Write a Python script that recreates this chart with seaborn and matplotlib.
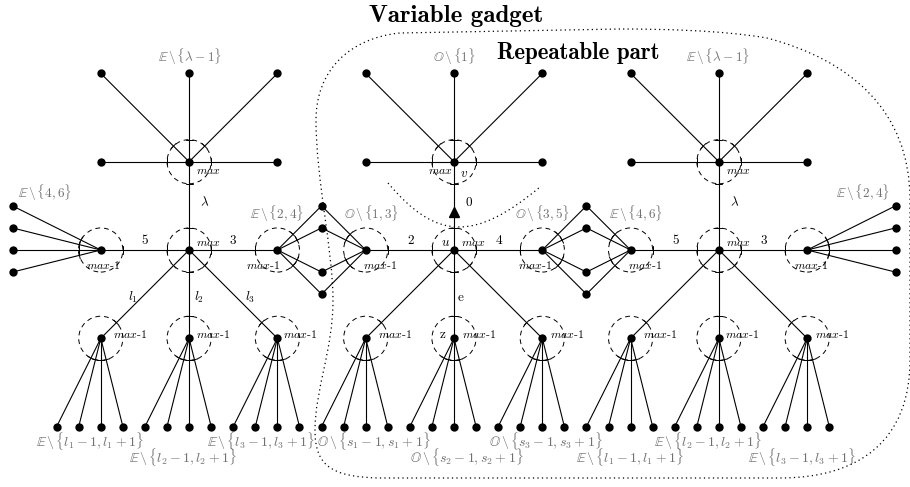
import numpy as np
import pandas as pd
import matplotlib
matplotlib.use('Agg')
import matplotlib.pyplot as plt
import seaborn as sns
from matplotlib.path import Path
from matplotlib.patches import PathPatch, Circle

sns.set_theme(style='white')
plt.rcParams['font.family'] = ['cmr10', 'DejaVu Serif']
plt.rcParams['mathtext.fontset'] = 'cm'
plt.rcParams['axes.unicode_minus'] = False

# gadget structure, in grid units (1 unit = spacing between neighbour vertices)
hub_cols = [2, 5, 8]
maxm1_cols = [1, 3, 4, 6, 7, 9]
side_offsets = [-1, 0, 1]
leaf_offsets = [-0.5, -0.25, 0, 0.25]
fan_rows = [0.5, 0.25, 0, -0.25]
diamond_cols = [3.5, 6.5]
diamond_rows = [0.5, 0.25, -0.25, -0.5]
end_fans = [(1, 0), (9, 10)]
radius = 0.25
arrow_hub = 5

# pixel -> grid units
S, X0, Y0 = 88.3, 12.5, 250.0
def px(x, y):
    return (x - X0) / S, (Y0 - y) / S

# edges
edges = []
for h in hub_cols:
    edges.append(((h, 0), (h, 1)))
    for d in side_offsets:
        edges.append(((h, 1), (h + d, 2)))
    for d in [-1, 1]:
        edges.append(((h, 1), (h + d, 1)))
        edges.append(((h, 0), (h + d, 0)))
    for d in side_offsets:
        edges.append(((h, 0), (h + d, -1)))
        for o in leaf_offsets:
            edges.append(((h + d, -1), (h + d + o, -2)))
for dc in diamond_cols:
    for r in diamond_rows:
        edges.append(((dc - 0.5, 0), (dc, r)))
        edges.append(((dc, r), (dc + 0.5, 0)))
for c, lc in end_fans:
    for r in fan_rows:
        edges.append(((c, 0), (lc, r)))

circled = set()
for h in hub_cols:
    circled.add((h, 0))
    circled.add((h, 1))
    for d in side_offsets:
        circled.add((h + d, -1))
for c in maxm1_cols:
    circled.add((c, 0))

rows = []
for i, (a, b) in enumerate(edges):
    rows.append({'edge': i, 'x': a[0], 'y': a[1]})
    rows.append({'edge': i, 'x': b[0], 'y': b[1]})
edges_df = pd.DataFrame(rows)
nodes_df = edges_df[['x', 'y']].drop_duplicates()

fig = plt.figure(figsize=(9.1, 4.87), dpi=100)
ax = fig.add_axes([0, 0, 1, 1])

sns.lineplot(data=edges_df, x='x', y='y', units='edge', estimator=None, sort=False,
             color='black', lw=0.8, ax=ax, legend=False)
sns.scatterplot(data=nodes_df, x='x', y='y', color='black', s=36, edgecolor='black',
                linewidth=0, ax=ax, zorder=5, legend=False)

# dashed circles + small ticks where edges cross them
for (cx, cy) in circled:
    ax.add_patch(Circle((cx, cy), radius, fill=False, ec='black', lw=0.7,
                        ls=(0, (5, 4)), zorder=3))
for a, b in edges:
    for p, q in [(a, b), (b, a)]:
        if p in circled:
            d = np.array(q, float) - np.array(p, float)
            d /= np.linalg.norm(d)
            m = np.array(p) + radius * d
            n = np.array([-d[1], d[0]]) * 0.04
            ax.plot([m[0] - n[0], m[0] + n[0]], [m[1] - n[1], m[1] + n[1]],
                    color='black', lw=0.7)

# arrow head on the u -> v edge
ax.plot([arrow_hub], [px(0, 212)[1]], marker='^', ms=7, color='black', zorder=6)

# dotted outline of the repeatable part
outline = [(620, 29), (400, 33), (350, 38), (316, 70), (316, 120),
           (316, 180), (333, 250), (333, 300), (333, 350), (315, 390), (315, 430),
           (315, 465), (330, 477), (380, 478), (780, 478), (860, 478), (910, 440),
           (910, 360), (910, 200), (910, 110), (850, 60), (767, 38),
           (720, 30), (660, 29), (620, 29)]
codes = [Path.MOVETO, Path.LINETO, Path.CURVE4, Path.CURVE4, Path.CURVE4,
         Path.CURVE4, Path.CURVE4, Path.CURVE4, Path.CURVE4, Path.CURVE4, Path.CURVE4,
         Path.CURVE4, Path.CURVE4, Path.CURVE4, Path.LINETO, Path.CURVE4, Path.CURVE4,
         Path.CURVE4, Path.LINETO, Path.CURVE4, Path.CURVE4, Path.CURVE4,
         Path.CURVE4, Path.CURVE4, Path.CURVE4]
ax.add_patch(PathPatch(Path([px(*p) for p in outline], codes), fill=False,
                       ec='black', lw=0.9, ls=(0, (1, 2.6))))
cut = [(388, 183), (436, 240), (474, 242), (540, 187)]
ax.add_patch(PathPatch(Path([px(*p) for p in cut],
                            [Path.MOVETO, Path.CURVE4, Path.CURVE4, Path.CURVE4]),
                       fill=False, ec='black', lw=0.9, ls=(0, (1, 2.6))))

def lab(x, y, s, size=9.5, color='black', **kw):
    ax.text(*px(x, y), s, fontsize=size, color=color, ha=kw.pop('ha', 'center'),
            va='center', **kw)

gray = '#707070'
E = r'\mathbb{E}\,\backslash\,'
O = r'\mathbb{O}\,\backslash\,'
top_labels = [
    (190, 57, rf'${E}\{{\lambda-1\}}$'), (454, 57, rf'${O}\{{1\}}$'),
    (718, 57, rf'${E}\{{\lambda-1\}}$'),
    (45, 193, rf'${E}\{{4,6\}}$'), (277, 214, rf'${E}\{{2,4\}}$'),
    (372, 214, rf'${O}\{{1,3\}}$'), (543, 214, rf'${O}\{{3,5\}}$'),
    (636, 214, rf'${E}\{{4,6\}}$'), (863, 193, rf'${E}\{{2,4\}}$'),
]
bottom_labels = [
    (90, 441, rf'${E}\{{l_1-1,l_1+1\}}$'), (183, 457, rf'${E}\{{l_2-1,l_2+1\}}$'),
    (261, 441, rf'${E}\{{l_3-1,l_3+1\}}$'), (374, 441, rf'${O}\{{s_1-1,s_1+1\}}$'),
    (467, 457, rf'${O}\{{s_2-1,s_2+1\}}$'), (546, 441, rf'${O}\{{s_3-1,s_3+1\}}$'),
    (630, 457, rf'${E}\{{l_1-1,l_1+1\}}$'), (708, 441, rf'${E}\{{l_2-1,l_2+1\}}$'),
    (802, 457, rf'${E}\{{l_3-1,l_3+1\}}$'),
]
for x, y, s in top_labels:
    lab(x, y, s, size=9.5, color=gray)
for x, y, s in bottom_labels:
    lab(x, y, s, size=10, color=gray)

edge_labels = [
    (145, 241, '5'), (233, 241, '3'), (411, 241, '2'), (499, 241, '4'),
    (676, 241, '5'), (764, 241, '3'), (469, 203, '0'), (461, 298, 'e'),
    (443, 335, 'z'), (205, 203, r'$\lambda$'), (735, 203, r'$\lambda$'),
    (133, 297, r'$l_1$'), (199, 297, r'$l_2$'), (250, 297, r'$l_3$'),
    (446, 243, r'$u$'), (464, 174, r'$v$'),
]
for x, y, s in edge_labels:
    lab(x, y, s, size=9.5)

for x, y in [(208, 243), (208, 171), (473, 243), (440, 171), (738, 243), (738, 171)]:
    lab(x, y, r'$max$', size=8.5)
for x in [103, 263, 380, 535, 645, 811]:
    lab(x, 265, r'$max$-$1$', size=8.5)
for x in [113, 196, 283, 378, 462, 550, 643, 725, 815]:
    lab(x, 334, r'$max$-$1$', size=8.5, ha='left')

lab(456, 16, 'Variable gadget', size=18, fontfamily='cmb10')
lab(578, 53, 'Repeatable part', size=16.5, fontfamily='cmb10')

ax.set_xlim(-X0 / S, (910 - X0) / S)
ax.set_ylim((Y0 - 487) / S, Y0 / S)
ax.axis('off')
fig.savefig('out.png', dpi=100)
